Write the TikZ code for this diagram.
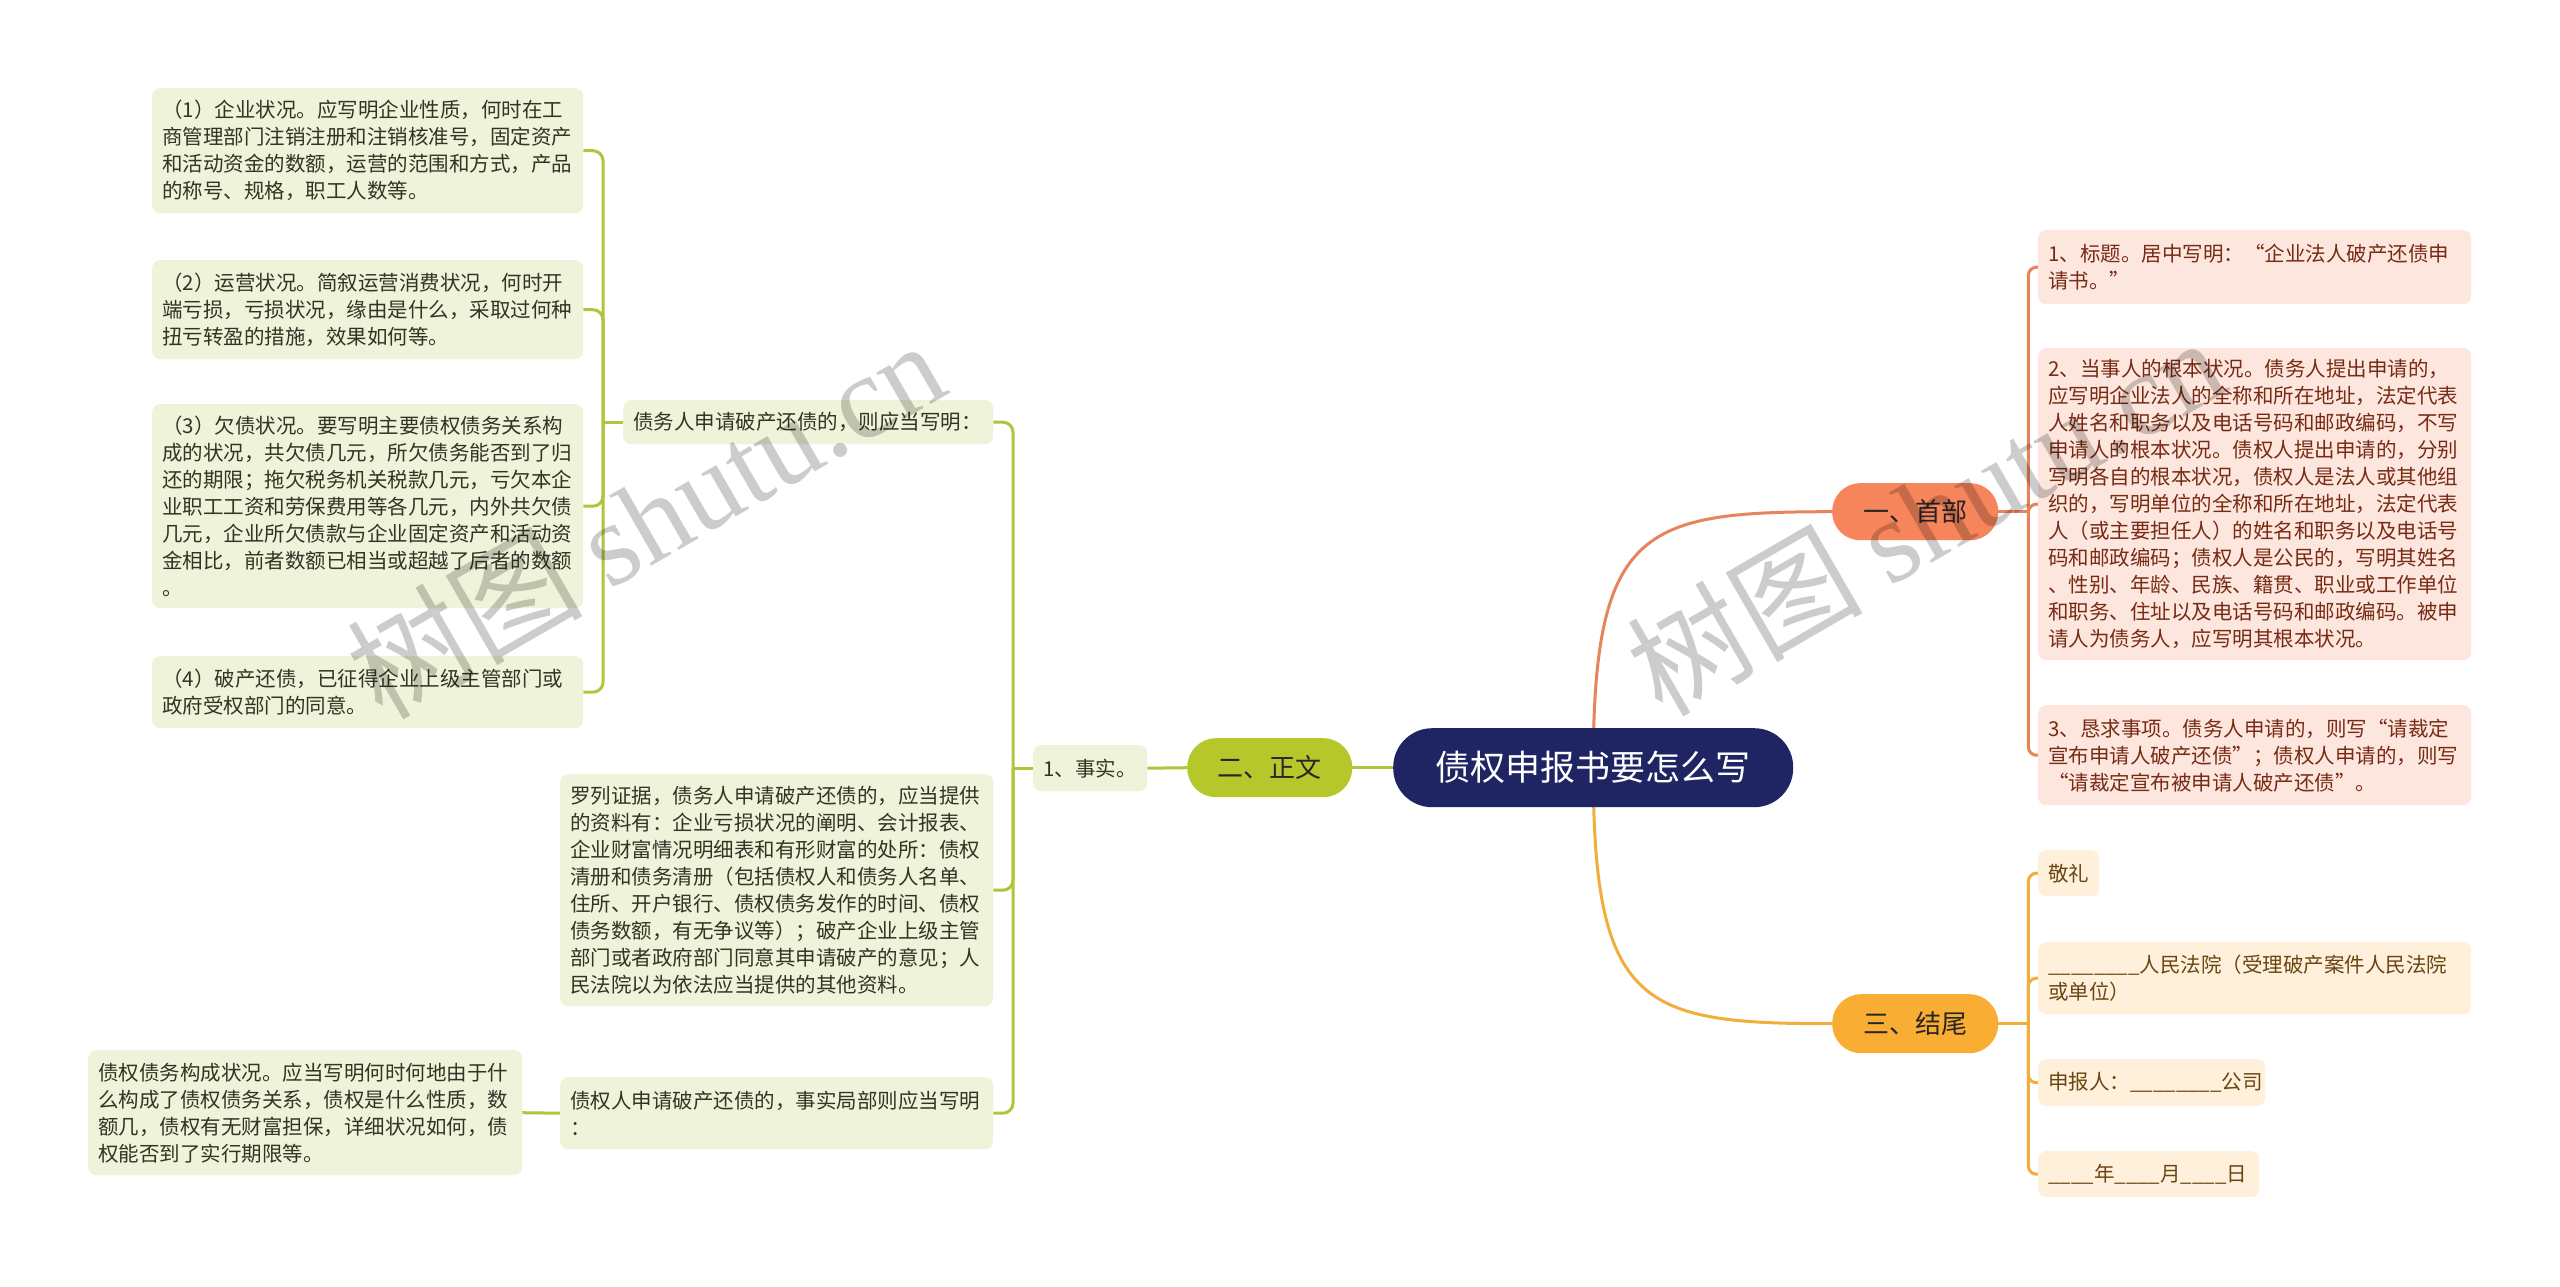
\documentclass[tikz,border=0pt]{standalone}
\usepackage{fontspec}
\setmainfont{Noto Sans CJK SC}
\newfontfamily\wmlatin{Liberation Serif}
\usetikzlibrary{calc}
\pgfdeclarelayer{bg}
\pgfdeclarelayer{wm}
\pgfsetlayers{bg,main,wm}
\definecolor{gfill}{HTML}{EFF3D9}
\definecolor{gtext}{HTML}{333326}
\definecolor{pfill}{HTML}{FDE6DD}
\definecolor{ptext}{HTML}{772B14}
\definecolor{yfill}{HTML}{FEF0DA}
\definecolor{ytext}{HTML}{6B4512}
\definecolor{gbranch}{HTML}{B5C72B}
\definecolor{obranch}{HTML}{F6855B}
\definecolor{ybranch}{HTML}{F9AD33}
\definecolor{gline}{HTML}{B2C43A}
\definecolor{oline}{HTML}{E8845C}
\definecolor{yline}{HTML}{F2AE3C}
\definecolor{navy}{HTML}{1F2563}
\newcommand\myleaffont{\fontsize{20.5pt}{27pt}\selectfont}
\newcommand\mybranchfont{\fontsize{26pt}{30pt}\selectfont}
\newcommand\mytitlefont{\fontsize{35pt}{40pt}\selectfont}
\tikzset{
  leafbox/.style 2 args={anchor=north west, rounded corners=8pt, inner xsep=10pt, inner ysep=0pt,
    align=left, font=\myleaffont, text width=#1, minimum height=#2},
  gleaf/.style 2 args={leafbox={#1}{#2}, fill=gfill, text=gtext},
  pleaf/.style 2 args={leafbox={#1}{#2}, fill=pfill, text=ptext},
  yleaf/.style 2 args={leafbox={#1}{#2}, fill=yfill, text=ytext},
  branchbox/.style 2 args={anchor=north west, inner sep=0pt, minimum width=#1, minimum height=#2,
    font=\mybranchfont, text=black!85},
  gconn/.style={draw=gline, line width=3pt},
  oconn/.style={draw=oline, line width=3pt},
  yconn/.style={draw=yline, line width=3pt},
  wmark/.style={text=black, text opacity=0.2, rotate=30, font=\fontsize{118pt}{120pt}\selectfont}
}
\begin{document}
\begin{tikzpicture}[x=1pt,y=-1pt]
\useasboundingbox (0,0) rectangle (2560,1286);

% central and main branches
\node[anchor=north west, inner sep=0pt, minimum width=400pt, minimum height=79pt,
      fill=navy, rounded corners=39pt, text=white, font=\mytitlefont] (center) at (1393,728) {债权申报书要怎么写};
\node[branchbox={165pt}{59pt}, fill=gbranch, rounded corners=29pt] (zw) at (1187,738) {二、正文};
\node[branchbox={166pt}{57pt}, fill=obranch, rounded corners=28pt] (sb) at (1832,483) {一、首部};
\node[branchbox={166pt}{59pt}, fill=ybranch, rounded corners=29pt] (jw) at (1832,994) {三、结尾};

% left side (正文)
\node[gleaf={94pt}{46pt}] (fact) at (1033,745) {1、事实。};
\node[gleaf={350pt}{44pt}] (A) at (623,400) {债务人申请破产还债的，则应当写明：};
\node[gleaf={413pt}{232pt}] (B) at (560,774) {罗列证据，债务人申请破产还债的，应当提供\\的资料有：企业亏损状况的阐明、会计报表、\\企业财富情况明细表和有形财富的处所：债权\\清册和债务清册（包括债权人和债务人名单、\\住所、开户银行、债权债务发作的时间、债权\\债务数额，有无争议等）；破产企业上级主管\\部门或者政府部门同意其申请破产的意见；人\\民法院以为依法应当提供的其他资料。};
\node[gleaf={413pt}{72pt}] (C) at (560,1077) {债权人申请破产还债的，事实局部则应当写明\\：};
\node[gleaf={414pt}{125pt}] (C1) at (88,1050) {债权债务构成状况。应当写明何时何地由于什\\么构成了债权债务关系，债权是什么性质，数\\额几，债权有无财富担保，详细状况如何，债\\权能否到了实行期限等。};
\node[gleaf={411pt}{125pt}] (a1) at (152,88) {（1）企业状况。应写明企业性质，何时在工\\商管理部门注销注册和注销核准号，固定资产\\和活动资金的数额，运营的范围和方式，产品\\的称号、规格，职工人数等。};
\node[gleaf={411pt}{99pt}] (a2) at (152,260) {（2）运营状况。简叙运营消费状况，何时开\\端亏损，亏损状况，缘由是什么，采取过何种\\扭亏转盈的措施，效果如何等。};
\node[gleaf={411pt}{204pt}] (a3) at (152,404) {（3）欠债状况。要写明主要债权债务关系构\\成的状况，共欠债几元，所欠债务能否到了归\\还的期限；拖欠税务机关税款几元，亏欠本企\\业职工工资和劳保费用等各几元，内外共欠债\\几元，企业所欠债款与企业固定资产和活动资\\金相比，前者数额已相当或超越了后者的数额\\。};
\node[gleaf={411pt}{72pt}] (a4) at (152,656) {（4）破产还债，已征得企业上级主管部门或\\政府受权部门的同意。};

% right side (首部)
\node[pleaf={413pt}{74pt}] (r1) at (2038,230) {1、标题。居中写明：“企业法人破产还债申\\请书。”};
\node[pleaf={413pt}{312pt}] (r2) at (2038,348) {2、当事人的根本状况。债务人提出申请的，\\应写明企业法人的全称和所在地址，法定代表\\人姓名和职务以及电话号码和邮政编码，不写\\申请人的根本状况。债权人提出申请的，分别\\写明各自的根本状况，债权人是法人或其他组\\织的，写明单位的全称和所在地址，法定代表\\人（或主要担任人）的姓名和职务以及电话号\\码和邮政编码；债权人是公民的，写明其姓名\\、性别、年龄、民族、籍贯、职业或工作单位\\和职务、住址以及电话号码和邮政编码。被申\\请人为债务人，应写明其根本状况。};
\node[pleaf={413pt}{100pt}] (r3) at (2038,705) {3、恳求事项。债务人申请的，则写“请裁定\\宣布申请人破产还债”；债权人申请的，则写\\“请裁定宣布被申请人破产还债”。};

% right side (结尾)
\node[yleaf={41pt}{46pt}] (e1) at (2038,850) {敬礼};
\node[yleaf={413pt}{72pt}] (e2) at (2038,942) {\_\_\_\_\_\_\_\_人民法院（受理破产案件人民法院\\或单位）};
\node[yleaf={207pt}{47pt}] (e3) at (2038,1059) {申报人：\_\_\_\_\_\_\_\_公司};
\node[yleaf={201pt}{46pt}] (e4) at (2038,1151) {\_\_\_\_年\_\_\_\_月\_\_\_\_日};

\begin{pgfonlayer}{bg}
  \fill[white] (0,0) rectangle (2560,1286);
  % main connectors
  \draw[gconn] (center.west) -- (zw.east);
  \draw[oconn] (center.center) .. controls +(0,-240) and +(-190,0) .. (sb.west);
  \draw[yconn] (center.center) .. controls +(0,240) and +(-190,0) .. (jw.west);
  % 正文
  \draw[gconn] (zw.west) -- (fact.east);
  \draw[gconn] (fact.west) -- ++(-20,0) coordinate (jf);
  \foreach \c in {A,B,C} \draw[gconn, rounded corners=10pt] (jf) |- (\c.east);
  \draw[gconn] (A.west) -- ++(-20,0) coordinate (ja);
  \foreach \c in {a1,a2,a3,a4} \draw[gconn, rounded corners=10pt] (ja) |- (\c.east);
  \draw[gconn] (C.west) -- (C1.east);
  % 首部
  \draw[oconn] (sb.east) -- ++(30,0) coordinate (js);
  \foreach \c in {r1,r2,r3} \draw[oconn, rounded corners=8pt] (js) |- (\c.west);
  % 结尾
  \draw[yconn] (jw.east) -- ++(30,0) coordinate (jj);
  \foreach \c in {e1,e2,e3,e4} \draw[yconn, rounded corners=8pt] (jj) |- (\c.west);
\end{pgfonlayer}

\begin{pgfonlayer}{wm}
  \node[wmark] (wm1) at (645,518) {树图 {\wmlatin shutu.cn}};
  \node[wmark] (wm2) at (1925,515) {树图 {\wmlatin shutu.cn}};
\end{pgfonlayer}
\end{tikzpicture}
\end{document}
